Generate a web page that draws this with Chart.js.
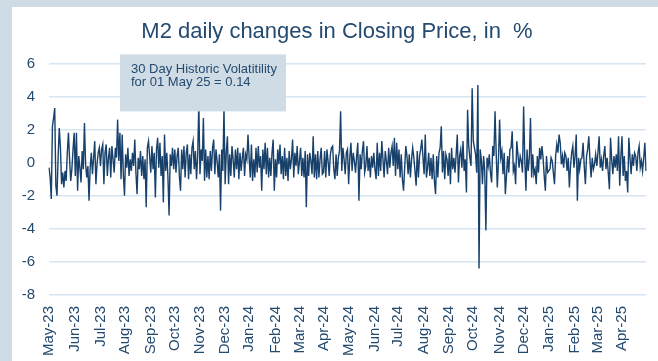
<!DOCTYPE html>
<html>
<head>
<meta charset="utf-8">
<script src="https://cdn.jsdelivr.net/npm/chart.js@4.4.1/dist/chart.umd.min.js"></script>
<style>
  html, body { margin: 0; padding: 0; width: 658px; height: 361px; overflow: hidden; background: #cfdbe5; }
  #panel { position: absolute; left: 12px; top: 7px; width: 646px; height: 354px; background: #ffffff; }
  canvas { display: block; }
</style>
</head>
<body>
<div id="panel"><canvas id="chart" width="646" height="354"></canvas></div>
<script>
// Daily % changes in closing price, one row per month (trading days)
const changes2023 = [
  -0.3, -0.9, -2.2, 2.2, 2.7, 3.3, -1.4, -2.0, 0.4, 2.1, 0.9, -1.3, -0.6, -1.5, -0.5, -1.1, 0.6, 1.8, 0.2, -1.1, -0.4, 0.8, 1.8,   // May
  -0.8, 1.8, -1.7, 0.4, -0.3, -1.2, 0.7, -0.4, 2.4, -0.1, -0.9, -0.2, -2.3, -0.3, 0.6, -0.7, 0.3, 1.3, -1.3, -0.1, 0.6, 0.9,        // Jun
  -0.2, 0.8, 1.1, -1.3, 0.6, 1.1, -0.8, 0.3, 0.9, -0.9, 1.0, 0.2, -0.6, 0.9, 0.3, 2.6, 0.1, 1.8, -1.0, 1.7, -0.7,                  // Jul
  -2.0, 0.5, -0.3, 0.9, -0.8, 0.2, -0.5, 0.6, -0.2, 1.4, -0.6, -1.9, 0.3, -0.4, 0.7, -0.8, 0.4, -1.0, 0.2, -2.7, 0.9, 1.3, 0.4,    // Aug
  -0.6, 1.0, -0.4, 0.6, -2.1, 0.8, 1.5, -0.3, 1.2, -0.8, 0.4, -2.4, 1.7, -0.5, 0.6, -0.9, -3.2, 0.5, -0.2, 0.9, -0.4,              // Sep
  0.8, -0.6, 0.4, 0.9, -0.8, -1.7, 0.8, -0.4, 1.0, -0.9, 0.6, 1.1, -1.0, 0.5, -0.7, 0.9, 1.3, -0.4, 0.7, -1.0, 0.4, 3.6,           // Oct
  -0.7, 0.8, 0.1, 2.7, -1.1, 0.8, -0.9, 0.4, -1.0, 0.7, -0.5, 0.9, 1.4, -0.7, 0.8, 0.1, -0.9, 0.5, -2.9, 0.8, -0.5, 3.3,           // Nov
  -1.3, 0.6, 1.6, -1.3, 0.5, -0.8, 1.0, 0.2, -0.9, 0.8, -0.4, 0.9, -1.0, 0.6, -0.5, 0.3, 0.9, -0.8, 0.5, 0.2, 1.7                  // Dec
];
const changes2024 = [
  0.3, -0.9, 1.1, -1.1, 0.2, -0.9, 0.9, -0.6, 1.0, -0.3, 0.4, -1.7, 0.8, -0.4, 1.2, -0.7, 0.9, -0.9, 0.3, -0.8, 0.6, 1.4, -1.7,     // Jan
  0.2, -0.9, 0.8, -0.1, 1.1, -0.7, 0.4, -1.0, 0.9, -0.8, 0.3, -1.1, 0.7, -0.4, 0.2, 1.4, -0.9, 0.6, -0.2, 1.0, -0.7,               // Feb
  0.1, 0.9, -0.8, 0.3, -0.9, 0.7, -2.7, 0.5, -0.8, 0.6, 0.1, -0.7, 1.6, -0.9, 0.5, -1.0, 0.7, -0.9, 0.2, 0.9, -0.7,                // Mar
  -0.6, 0.7, -0.9, 0.8, 0.1, -0.8, 0.5, 0.9, 1.0, -0.4, -1.0, 0.5, -0.8, 0.3, 0.7, 3.1, -0.5, 0.9, 0.2, -0.7, 0.6, 0.8,            // Apr
  -1.3, 0.3, 1.2, -0.5, 0.6, 0.1, -0.6, 0.4, 1.2, -2.3, 0.5, -0.4, 0.7, 1.3, -0.6, -0.2, 1.0, -0.5, 0.3, -0.9, 0.4, -0.3, 0.6,     // May
  -0.4, -1.0, 1.2, -0.8, 0.6, -0.5, 1.3, 0.2, -0.9, 0.7, 0.1, -0.7, 0.9, -0.3, 0.6, 1.0, -0.2, 1.5, -0.8, 1.2,                     // Jun
  -0.4, 0.8, -0.9, 0.5, -1.0, -1.7, -0.3, 1.0, 0.4, -0.7, 0.5, -0.9, 0.2, 0.9, 0.3, -0.5, -1.4, 0.7, -0.9, 0.4, 0.8, 1.4, 0.3,     // Jul
  -0.7, 1.7, -0.9, -0.3, 0.6, -0.8, 0.3, -1.0, 0.5, -1.1, -1.9, 0.4, -0.9, 0.6, 0.9, 2.2, -0.6, 0.7, -1.0, 0.5, 0.2, -0.8,         // Aug
  0.6, -1.3, 0.9, -0.4, 0.3, -0.6, 0.5, 1.7, -1.2, 0.4, 0.8, -0.3, 1.3, -0.5, 0.2, -1.8, 3.2, 1.0, 0.3, -0.2, 4.5,                 // Sep
  1.3, 0.9, 0.5, -0.6, 4.7, -6.4, 0.8, 0.2, -1.3, 0.4, -0.5, -4.1, 0.3, -0.2, 0.5, -0.6, -1.2, 1.0, 0.4, 3.1, 0.6, -1.5, 0.2,      // Oct
  2.6, 0.3, 0.7, -0.7, 0.6, -1.9, -0.8, 0.4, -0.6, 0.8, 0.9, 1.9, -0.5, -0.2, -1.3, 1.3, 0.5, -0.3, 0.4, 0.1, -0.6,                // Nov
  3.4, 0.2, -1.7, 0.8, -0.5, 0.3, 2.7, -0.9, 0.5, -0.7, -0.4, -1.3, 0.4, -0.6, 0.9, 0.2, 1.0, 0.3, -0.8, -1.7, 0.4, -0.6           // Dec
];
const changes2025 = [
  -0.5, -0.4, 0.3, 0.1, -0.6, -1.3, 0.4, 1.1, 0.6, 1.7, 1.2, -0.1, 0.4, -0.3, 0.6, 0.4, -0.5, 0.3, -1.5, -0.2, 0.6, 1.0, -0.3,     // Jan
  0.4, 1.7, -2.3, 0.3, -0.4, 0.2, 0.3, 1.2, -0.2, -1.3, 0.4, 0.8, 1.6, 0.2, -0.9, 0.3, -0.4, -0.1, 0.5, -0.2,                      // Feb
  0.6, 1.6, -0.3, 0.2, -0.5, 0.4, 1.0, -0.4, 0.3, -0.6, -1.6, 1.5, 0.2, -0.7, 0.4, -0.3, 0.5, -0.5, 1.6, -1.4, 0.3,                // Mar
  1.6, -0.8, 0.4, -1.1, -0.5, -1.8, 1.5, 0.3, -0.7, 0.5, -0.2, 0.6, 0.4, -0.5, 0.6, 1.0, -0.3, 0.1, -0.5, 0.3, 1.2, -0.5           // Apr
];

const monthNames = ['Jan', 'Feb', 'Mar', 'Apr', 'May', 'Jun', 'Jul', 'Aug', 'Sep', 'Oct', 'Nov', 'Dec'];
const yTicks = [-8, -6, -4, -2, 0, 2, 4, 6];
const titleText = 'M2 daily changes in Closing Price, in  %';
const noteLines = ['30 Day Historic Volatitility', 'for 01 May 25 = 0.14'];

const values = changes2023.concat(changes2024, changes2025);

// Trading days (Mon-Fri) starting 1 May 2023
const dates = [];
const cursor = new Date(2023, 4, 1);
while (dates.length < values.length) {
  const wd = cursor.getDay();
  if (wd !== 0 && wd !== 6) dates.push(new Date(cursor));
  cursor.setDate(cursor.getDate() + 1);
}
const labels = dates.map(d => d.getFullYear() + '-' + (d.getMonth() + 1) + '-' + d.getDate());

function monthLabel(i) {
  const d = dates[i];
  if (i > 0 && dates[i - 1].getMonth() === d.getMonth()) return null;
  return monthNames[d.getMonth()] + '-' + String(d.getFullYear()).slice(2);
}

const textColor = '#244a70';
const fontFamily = '"Liberation Sans", Arial, Helvetica, sans-serif';

// Nudge the title so it is centred on the white panel's inner block
const titleShift = {
  id: 'titleShift',
  afterLayout(chart) {
    const t = chart.titleBlock;
    if (t) { t.left += 8; t.right += 8; }
  }
};

// Volatility note box, drawn over the line
const notePlugin = {
  id: 'volNote',
  afterDatasetsDraw(chart) {
    const { ctx, chartArea } = chart;
    const x = chartArea.left + 71;
    const y = chartArea.top - 9;
    ctx.save();
    ctx.fillStyle = '#cfdbe5';
    ctx.fillRect(x, y, 166, 57);
    ctx.fillStyle = textColor;
    ctx.font = '13px ' + fontFamily;
    ctx.textBaseline = 'alphabetic';
    ctx.textAlign = 'left';
    noteLines.forEach((t, i) => ctx.fillText(t, x + 11, y + 18.5 + i * 13.5));
    ctx.restore();
  }
};

new Chart(document.getElementById('chart'), {
  type: 'line',
  data: {
    labels: labels,
    datasets: [{
      data: values,
      borderColor: '#17406b',
      borderWidth: 1.4,
      pointRadius: 0,
      tension: 0,
      fill: false
    }]
  },
  options: {
    responsive: false,
    animation: false,
    layout: { padding: { left: 0, right: 12, top: 0, bottom: 0 } },
    plugins: {
      legend: { display: false },
      tooltip: { enabled: false },
      title: {
        display: true,
        text: titleText,
        color: textColor,
        font: { family: fontFamily, size: 22, weight: 'normal' },
        padding: { top: 12, bottom: 18 }
      }
    },
    scales: {
      x: {
        type: 'category',
        grid: { display: false, drawTicks: false },
        border: { display: false },
        afterFit: scale => { scale.height = 66; scale.paddingLeft = 0; scale.paddingRight = 0; },
        ticks: {
          autoSkip: false,
          minRotation: 90,
          maxRotation: 90,
          padding: 11,
          color: textColor,
          font: { family: fontFamily, size: 15 },
          callback: (value, index) => monthLabel(index)
        }
      },
      y: {
        min: -8,
        max: 6,
        afterBuildTicks: scale => { scale.ticks = yTicks.map(v => ({ value: v })); },
        afterFit: scale => { scale.width = 37; },
        grid: { color: '#d5e5f4', lineWidth: 1.5, drawTicks: false },
        border: { display: false },
        ticks: {
          padding: 14,
          color: textColor,
          font: { family: fontFamily, size: 15 }
        }
      }
    }
  },
  plugins: [titleShift, notePlugin]
});
</script>
</body>
</html>
